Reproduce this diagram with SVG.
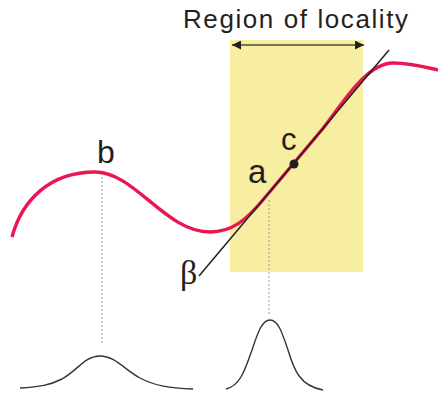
<svg xmlns="http://www.w3.org/2000/svg" width="438" height="396" viewBox="0 0 438 396">
<style>
.lbl{font-family:"Liberation Sans",Arial,sans-serif;fill:#231f20}
.dash{stroke:#999;stroke-width:1;stroke-dasharray:2,2;fill:none}
.bell{stroke:#333;stroke-width:1.4;fill:none}
</style>
<defs>
<marker id="ah" viewBox="0 0 10 10" refX="10" refY="5" markerWidth="10" markerHeight="9" markerUnits="userSpaceOnUse" orient="auto-start-reverse">
<path d="M0,0 L10,5 L0,10 Z" fill="#231f20"/>
</marker>
</defs>
<rect width="438" height="396" fill="#fff"/>
<g id="region">
<rect x="230" y="40" width="133" height="232" fill="#f7eea2"/>
<line x1="232" y1="45" x2="364" y2="45" stroke="#4a4a3a" stroke-width="1.6" marker-start="url(#ah)" marker-end="url(#ah)"/>
<text class="lbl" x="183" y="28" font-size="26" textLength="225" lengthAdjust="spacing" fill="#333">Region of locality</text>
</g>
<g id="connectors">
<line class="dash" x1="102" y1="173" x2="102" y2="343"/>
<line class="dash" x1="269" y1="200" x2="269" y2="314"/>
</g>
<g id="curve">
<path d="M12,237 C22,200 50,172 95,172 C135,172 165,232 210,232 C232,232 246,220 262,201 L320,132 C340,108 365,63 393,63 C410,63 425,67 438,70" fill="none" stroke="#ea1651" stroke-width="3.4"/>
</g>
<g id="tangent">
<line x1="199" y1="276" x2="389" y2="50" stroke="#231f20" stroke-width="1.5"/>
<circle cx="294" cy="164" r="4.5" fill="#231f20"/>
</g>
<g id="labels">
<text class="lbl" x="97" y="163" font-size="32">b</text>
<text class="lbl" x="248" y="183" font-size="33">a</text>
<text class="lbl" x="281" y="150" font-size="31">c</text>
<text x="180" y="284" font-size="34" font-family="Liberation Serif,serif" fill="#231f20">β</text>
</g>
<g id="bells">
<path class="bell" d="M20,388 C40,387 50,385 62,379 C78,370 85,356 100,356 C115,356 125,370 140,378 C155,386 170,388 193,389"/>
<path class="bell" d="M226,389 C240,386 245,370 252,350 C258,332 262,320 270,320 C278,320 282,332 288,350 C294,370 300,386 323,390"/>
</g>
</svg>
